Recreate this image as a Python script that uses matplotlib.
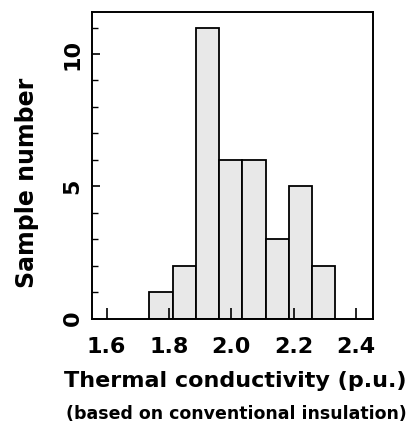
import numpy as np
import matplotlib
matplotlib.use("Agg")
import matplotlib.pyplot as plt

plt.rcParams['font.family'] = ['DejaVu Sans']

# histogram data
bin_edges = [1.737, 1.812, 1.886, 1.961, 2.036, 2.110, 2.185, 2.259, 2.334]
counts = [1, 2, 11, 6, 6, 3, 5, 2]
x_ticks = [1.6, 1.8, 2.0, 2.2, 2.4]
y_ticks = [0, 5, 10]

fig = plt.figure(figsize=(4.17, 4.23), dpi=100)
ax = fig.add_axes([0.2213, 0.247, 0.6725, 0.7253])

edges = np.array(bin_edges)
centers = (edges[:-1] + edges[1:]) / 2
ax.hist(centers, bins=edges, weights=counts, color='#e8e8e8',
        edgecolor='black', linewidth=1.3)

ax.set_xlim(1.554, 2.454)
ax.set_ylim(0, 11.6)

ax.set_xticks(x_ticks)
ax.set_xticklabels([f"{v:.1f}" for v in x_ticks], fontsize=16, fontweight='bold')
ax.set_yticks(y_ticks)
ax.set_yticklabels([str(v) for v in y_ticks], fontsize=16, fontweight='bold',
                   rotation=90, va='center')
ax.set_yticks(np.arange(0, 12, 1), minor=True)

ax.tick_params(axis='x', which='major', direction='in', length=8, width=1.2, pad=13)
ax.tick_params(axis='y', which='major', direction='in', length=6, width=1.2, pad=7)
ax.tick_params(axis='y', which='minor', direction='in', length=4, width=1.0)

for s in ax.spines.values():
    s.set_linewidth(1.4)

fig.text(0.065, 0.567, 'Sample number', rotation=90, ha='center', va='center',
         fontsize=17, fontweight='bold')
fig.text(0.5635, 0.099, 'Thermal conductivity (p.u.)', ha='center', va='center',
         fontsize=16, fontweight='bold')
fig.text(0.568, 0.022, '(based on conventional insulation)', ha='center', va='center',
         fontsize=12.5, fontweight='bold')

fig.savefig('out.png', dpi=100)
